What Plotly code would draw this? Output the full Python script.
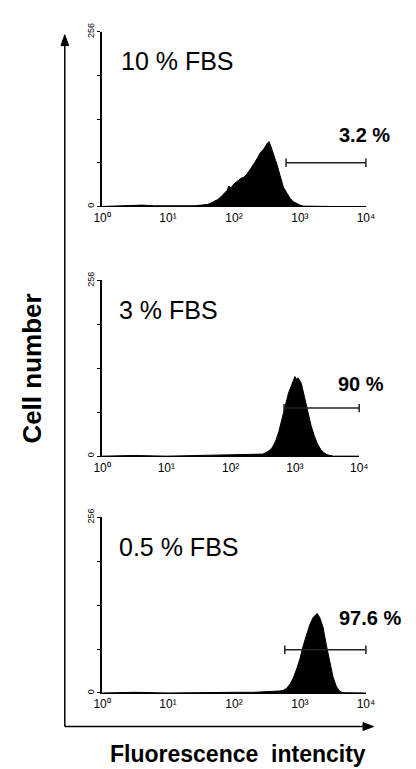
import plotly.graph_objects as go

# ---------------- data ----------------
panel_labels = ["10 % FBS", "3 % FBS", "0.5 % FBS"]
gate_labels = ["3.2 %", "90 %", "97.6 %"]

# histogram x positions in decades (log10 of fluorescence) and cell counts
logs1 = [0.0, 0.2, 0.4, 0.6, 0.8, 1.0, 1.2, 1.4, 1.5, 1.6, 1.65, 1.7, 1.75, 1.8, 1.85, 1.9, 1.92, 1.95,
         2.0, 2.05, 2.1, 2.15, 2.2, 2.25, 2.3, 2.35, 2.4, 2.45, 2.5, 2.53, 2.56, 2.6, 2.65, 2.7, 2.75,
         2.8, 2.85, 2.9, 2.95, 3.0, 3.05, 3.2, 3.5, 4.0]
counts1 = [0, 1, 1, 2, 1, 1, 0, 1, 2, 3, 5, 7, 10, 14, 19, 24, 30, 27,
           33, 37, 41, 43, 48, 55, 62, 70, 79, 84, 92, 95, 88, 77, 62, 45, 28,
           20, 12, 7, 4, 2, 0.5, 0, 0, 0]

logs2 = [0, 0.5, 1.0, 1.5, 2.0, 2.2, 2.4, 2.5, 2.55, 2.6, 2.65, 2.7, 2.75, 2.8, 2.85, 2.9, 2.95, 3.0,
         3.02, 3.05, 3.1, 3.15, 3.2, 3.25, 3.3, 3.35, 3.4, 3.45, 3.5, 3.6, 4.0]
counts2 = [0, 1, 0, 1, 1, 2, 2, 3, 5, 8, 13, 22, 36, 55, 75, 92, 104, 116,
           112, 114, 106, 86, 64, 45, 30, 18, 10, 5, 2, 0, 0]

logs3 = [0, 0.5, 1.0, 1.5, 2.0, 2.3, 2.5, 2.6, 2.7, 2.75, 2.8, 2.85, 2.9, 2.95, 3.0, 3.05, 3.1, 3.15,
         3.2, 3.24, 3.26, 3.3, 3.35, 3.4, 3.45, 3.5, 3.55, 3.6, 3.65, 3.8, 4.0]
counts3 = [0, 1, 0, 1, 1, 1, 2, 2, 3, 4, 7, 13, 22, 35, 50, 69, 85, 100,
           110, 114, 116, 110, 96, 70, 45, 24, 10, 3, 0.5, 0, 0]

# marker gates: start decade, end decade, level (counts)
gate_start = [2.79, 2.83, 2.77]
gate_end = [4.0, 4.0, 4.0]
gate_level = [64, 70, 63]

x_tickvals = [1, 10, 100, 1000, 10000]
x_ticktext = ["10\u2070", "10\u00b9", "10\u00b2", "10\u00b3", "10\u2074"]
y_tickvals = [0, 64, 128, 192, 256]
y_ticktext = ["0", "", "", "", "256"]

# ---------------- layout helpers ----------------
OFF = 8                      # default page body margin
W, H = 416 - OFF, 769 - OFF  # figure size that fills the window
def px(x):
    return (x - OFF) / W
def py(y):
    return 1 - (y - OFF) / H

FONT = "Liberation Sans, Arial, sans-serif"

# window-pixel boxes of the three panels: (left, right, top, bottom)
boxes = [(97, 373, 23, 200), (97, 366, 275, 453), (97, 373, 515, 693)]
label_pos = [(115, 53), (113, 305), (113, 545)]
gate_lab_pos = [(343, 128), (342, 380), (343, 617)]

fig = go.Figure()
hists = [(logs1, counts1), (logs2, counts2), (logs3, counts3)]

annotations = []
for i, ((lg, ct), box) in enumerate(zip(hists, boxes)):
    xa = "x" if i == 0 else f"x{i+1}"
    ya = "y" if i == 0 else f"y{i+1}"
    fig.add_trace(go.Scatter(
        x=[10 ** v for v in lg], y=ct, mode="lines",
        line=dict(color="black", width=1), fill="tozeroy", fillcolor="black",
        xaxis=xa, yaxis=ya, hoverinfo="skip"))
    fig.add_trace(go.Scatter(
        x=[10 ** gate_start[i], 10 ** gate_end[i]], y=[gate_level[i], gate_level[i]],
        mode="lines+markers", line=dict(color="#222", width=1.5),
        marker=dict(symbol="line-ns", size=6, line=dict(color="#222", width=1.5)),
        xaxis=xa, yaxis=ya, hoverinfo="skip", cliponaxis=False))
    l, r, t, b = box
    key = "" if i == 0 else str(i + 1)
    fig.update_layout(**{
        f"xaxis{key}": dict(type="log", range=[0, 4], domain=[px(l), px(r)],
                            anchor=ya, tickvals=x_tickvals, ticktext=x_ticktext,
                            showline=True, linecolor="black", linewidth=1.2,
                            ticks="", showgrid=False, zeroline=False,
                            tickfont=dict(family=FONT, size=12, color="black")),
        f"yaxis{key}": dict(range=[0, 256], domain=[py(b), py(t)], anchor=xa,
                            tickvals=y_tickvals, ticktext=y_ticktext, tickangle=-90,
                            showline=True, linecolor="black", linewidth=1.5,
                            ticks="outside", ticklen=3, tickcolor="black",
                            showgrid=False, zeroline=False,
                            tickfont=dict(family=FONT, size=9, color="black")),
    })
    lx, ly = label_pos[i]
    annotations.append(dict(x=px(lx), y=py(ly), xref="paper", yref="paper",
                            text=panel_labels[i], showarrow=False, xanchor="left",
                            yanchor="middle",
                            font=dict(family=FONT, size=25, color="black")))
    gx, gy = gate_lab_pos[i]
    annotations.append(dict(x=px(gx), y=py(gy), xref="paper", yref="paper",
                            text=gate_labels[i], showarrow=False, xanchor="left",
                            yanchor="middle",
                            font=dict(family=FONT, size=20, color="black", weight="bold")))

annotations.append(dict(x=px(24), y=py(364), xref="paper", yref="paper",
                        text="Cell number", textangle=-90, showarrow=False,
                        xanchor="center", yanchor="middle",
                        font=dict(family=FONT, size=26, color="black", weight="bold")))
annotations.append(dict(x=px(239), y=py(755), xref="paper", yref="paper",
                        text="Fluorescence  intencity", showarrow=False,
                        xanchor="center", yanchor="middle",
                        font=dict(family=FONT, size=23, color="black", weight="bold")))

# outer axis arrows (frame of the figure)
shapes = [
    dict(type="line", xref="paper", yref="paper", x0=px(58), y0=py(727), x1=px(58), y1=py(34),
         line=dict(color="black", width=1.5)),
    dict(type="line", xref="paper", yref="paper", x0=px(58), y0=py(727), x1=px(372), y1=py(727),
         line=dict(color="black", width=1.5)),
    dict(type="path", xref="paper", yref="paper",
         path=f"M {px(58)} {py(26)} L {px(54)} {py(37)} L {px(62)} {py(37)} Z",
         fillcolor="black", line=dict(color="black", width=1)),
    dict(type="path", xref="paper", yref="paper",
         path=f"M {px(381)} {py(727)} L {px(370)} {py(723)} L {px(370)} {py(731)} Z",
         fillcolor="black", line=dict(color="black", width=1)),
]

fig.update_layout(width=W, height=H, margin=dict(l=0, r=0, t=0, b=0),
                  paper_bgcolor="white", plot_bgcolor="white", showlegend=False,
                  annotations=annotations, shapes=shapes, hovermode=False)

fig.write_html("out.html")
